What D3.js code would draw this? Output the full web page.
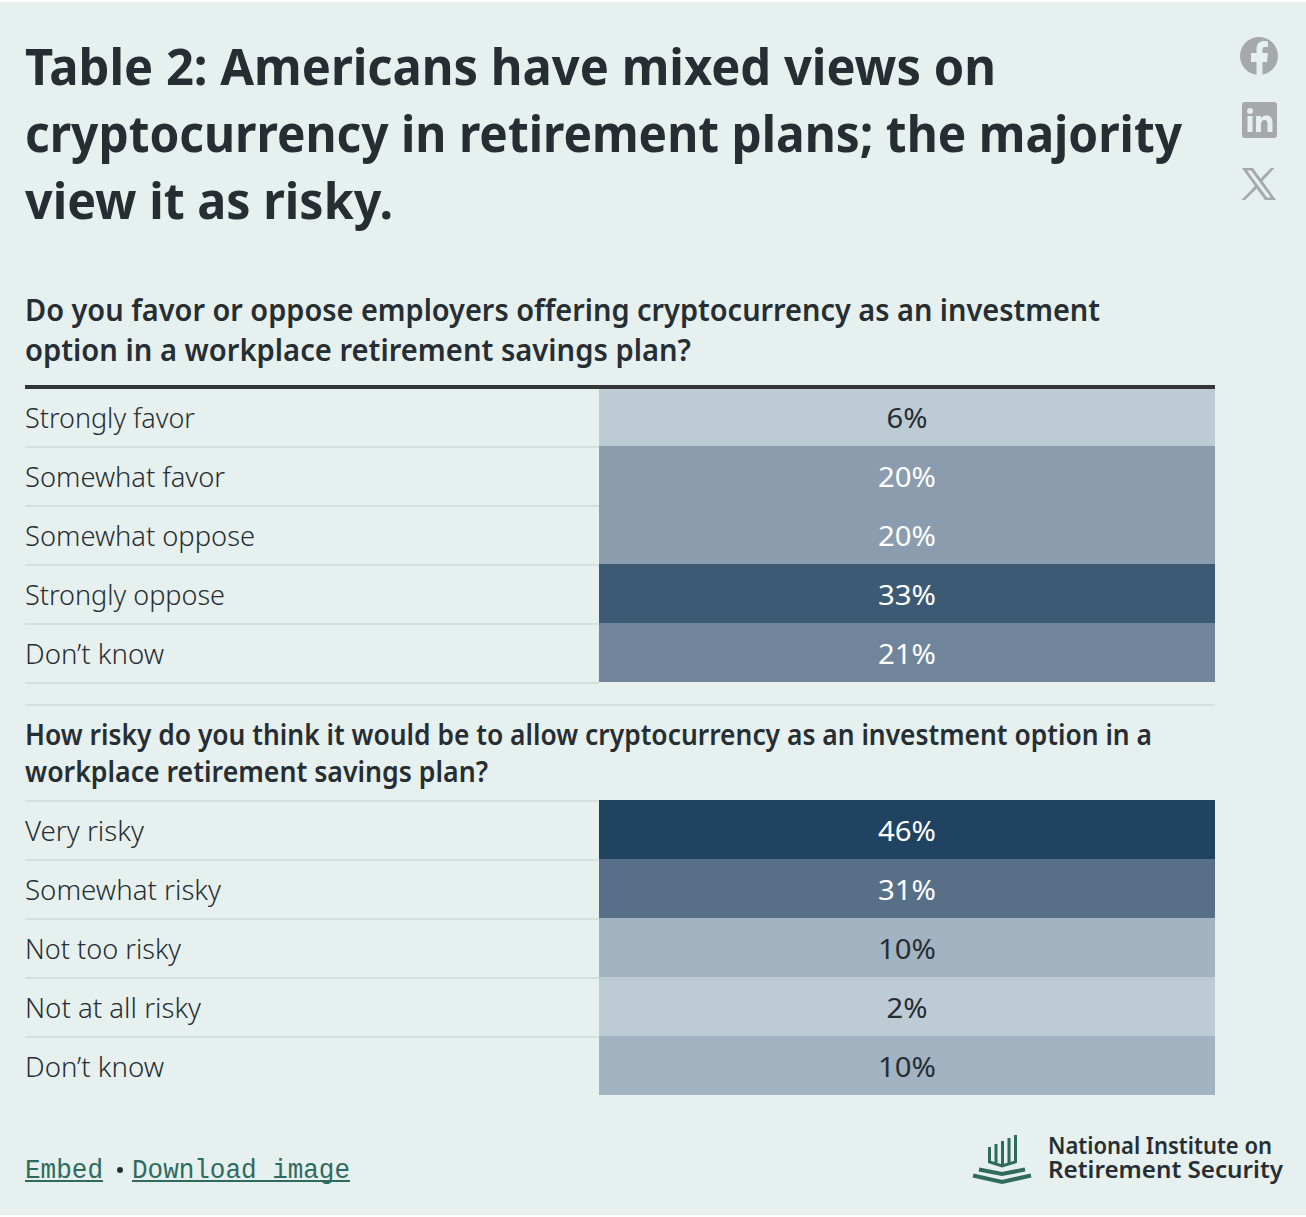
<!DOCTYPE html>
<html>
<head>
<meta charset="utf-8">
<script src="https://cdn.jsdelivr.net/npm/d3@7"></script>
<style>
  html, body { margin: 0; padding: 0; background: #fff; }
  svg { display: block; }
  text { font-family: "Noto Sans", sans-serif; }
</style>
</head>
<body>
<div id="chart"></div>
<script>
"use strict";

var titleLines = [
  "Table 2: Americans have mixed views on",
  "cryptocurrency in retirement plans; the majority",
  "view it as risky."
];
var titleWidths = [971, 1157, 368];

var favorQuestion = [
  "Do you favor or oppose employers offering cryptocurrency as an investment",
  "option in a workplace retirement savings plan?"
];
var favorQuestionWidths = [1075, 666];
var favorLabels = ["Strongly favor", "Somewhat favor", "Somewhat oppose", "Strongly oppose", "Don’t know"];
var favorValues = [6, 20, 20, 33, 21];

var riskQuestion = [
  "How risky do you think it would be to allow cryptocurrency as an investment option in a",
  "workplace retirement savings plan?"
];
var riskQuestionWidths = [1127, 463];
var riskLabels = ["Very risky", "Somewhat risky", "Not too risky", "Not at all risky", "Don’t know"];
var riskValues = [46, 31, 10, 2, 10];

var colorDomain = [2, 6, 10, 20, 21, 31, 33, 46];
var colorRange = ["#bdcbd5", "#bdcbd5", "#a2b3c2", "#8a9cad", "#70859b", "#577088", "#3d5a74", "#204361"];

var width = 1306, height = 1217;
var ink = "#272e33", green = "#2e6b5e", rule = "#d5e0de", bg = "#e6f0ee", iconGrey = "#a5a9a9";

var svg = d3.select("#chart").append("svg")
  .attr("width", width)
  .attr("height", height)
  .attr("viewBox", "0 0 " + width + " " + height);

svg.append("rect").attr("y", 2).attr("width", width).attr("height", height - 4).attr("fill", bg);

var color = d3.scaleOrdinal().domain(colorDomain).range(colorRange);
var x = d3.scaleLinear().domain([0, 1]).range([599, 1215]);

function fitted(sel, str, px, py, size, weight, fill, w) {
  var t = sel.append("text")
    .attr("x", px).attr("y", py)
    .attr("font-size", size).attr("font-weight", weight)
    .attr("fill", fill)
    .text(str);
  if (w) t.attr("textLength", w).attr("lengthAdjust", "spacingAndGlyphs");
  return t;
}

// Title
titleLines.forEach(function(d, i) {
  fitted(svg, d, 25, 85 + i * 67, 50, 700, ink, titleWidths[i]);
});

// Both question tables are drawn the same way
function drawTable(labels, values, top, labelWidths, lastRule) {
  var y = d3.scaleBand().domain(labels.map(function(d, i) { return i; })).range([top, top + labels.length * 59]);
  var g = svg.append("g");
  var seps = lastRule ? labels : labels.slice(0, -1);

  g.selectAll(".sep").data(seps).enter().append("line")
    .attr("x1", 25).attr("x2", x(0))
    .attr("y1", function(d, i) { return y(i) + 60; })
    .attr("y2", function(d, i) { return y(i) + 60; })
    .attr("stroke", rule).attr("stroke-width", 2);

  g.selectAll(".cell").data(values).enter().append("rect")
    .attr("x", x(0)).attr("width", x(1) - x(0))
    .attr("y", function(d, i) { return y(i); })
    .attr("height", y.bandwidth())
    .attr("fill", function(d) { return color(d); });

  g.selectAll(".label").data(labels).enter().append("text")
    .attr("x", 25)
    .attr("y", function(d, i) { return y(i) + 41; })
    .attr("font-size", 28).attr("font-weight", 300)
    .attr("fill", ink)
    .attr("textLength", function(d, i) { return labelWidths[i]; })
    .attr("lengthAdjust", "spacingAndGlyphs")
    .text(function(d) { return d; });

  g.selectAll(".value").data(values).enter().append("text")
    .attr("x", (x(0) + x(1)) / 2)
    .attr("y", function(d, i) { return y(i) + 41; })
    .attr("text-anchor", "middle")
    .attr("font-size", 28).attr("font-weight", 400)
    .attr("fill", function(d) { return d >= 20 ? "#ffffff" : ink; })
    .attr("textLength", function(d) { return d < 10 ? 41 : 58; })
    .attr("lengthAdjust", "spacingAndGlyphs")
    .text(function(d) { return d + "%"; });
}

// First table
favorQuestion.forEach(function(d, i) {
  fitted(svg, d, 25, 321 + i * 40, 30, 600, ink, favorQuestionWidths[i]);
});
drawTable(favorLabels, favorValues, 387, [170, 200, 230, 200, 139], true);
svg.append("rect").attr("x", 25).attr("y", 385).attr("width", 1190).attr("height", 4).attr("fill", "#333638");

// Second table
svg.append("line").attr("x1", 25).attr("x2", 1215).attr("y1", 705).attr("y2", 705)
  .attr("stroke", rule).attr("stroke-width", 2);
riskQuestion.forEach(function(d, i) {
  fitted(svg, d, 25, 745 + i * 37, 28, 600, ink, riskQuestionWidths[i]);
});
svg.append("line").attr("x1", 25).attr("x2", 599).attr("y1", 801).attr("y2", 801)
  .attr("stroke", rule).attr("stroke-width", 2);
drawTable(riskLabels, riskValues, 800, [119, 196, 156, 176, 139], false);

// Footer links
function link(str, px, w) {
  fitted(svg, str, px, 1178, 27, 400, green, w).style("font-family", "'Liberation Mono', monospace");
  svg.append("rect").attr("x", px).attr("y", 1180).attr("width", w).attr("height", 2).attr("fill", green);
}
link("Embed", 25, 78);
svg.append("circle").attr("cx", 120).attr("cy", 1170).attr("r", 3).attr("fill", ink);
link("Download image", 132, 218);

// Logo
var logo = svg.append("g").attr("fill", "none").attr("stroke", green);
logo.append("path").attr("stroke-width", 3)
  .attr("d", "M989.5 1147V1162L1002 1166L1015.500 1162V1135M996 1144V1164M1002.500 1141V1165M1009 1138V1164");
logo.append("path").attr("stroke-width", 4).attr("d", "M979 1169.500L1002 1174L1025 1169.500");
logo.append("path").attr("stroke-width", 4).attr("d", "M973 1175.500L1002 1182L1031 1175.500");

fitted(svg, "National Institute on", 1048, 1154, 23, 600, ink, 224);
fitted(svg, "Retirement Security", 1048, 1178, 23, 600, ink, 235);

// Share icons
var fb = svg.append("g").attr("transform", "translate(1259,56)");
fb.append("circle").attr("r", 19).attr("fill", iconGrey);
fb.append("path").attr("fill", bg)
  .attr("d", "M-2.500 19V6H-8V-3H-2.500V-7C-2.500-12 .5-15 5-15C7-15 9-14.500 9-14.500V-9H6C4-9 3.500-8 3.500-6V-3H9L8 6H3.500V19Z");

var li = svg.append("g").attr("transform", "translate(1242,102)");
li.append("rect").attr("width", 35).attr("height", 36).attr("rx", 3).attr("fill", iconGrey);
li.append("circle").attr("cx", 8).attr("cy", 9).attr("r", 3).attr("fill", bg);
li.append("rect").attr("x", 5.5).attr("y", 14).attr("width", 5).attr("height", 16).attr("fill", bg);
li.append("path").attr("fill", bg)
  .attr("d", "M14 14h5v2.500c1-2 3-3 5.500-3 5 0 6 3.500 6 8V30h-5v-7.500c0-2.500-.5-4.500-3-4.500s-3.500 2-3.500 4.500V30h-5z");

var xIcon = svg.append("g").attr("transform", "translate(1242,168)");
xIcon.append("path").attr("fill", iconGrey).attr("fill-rule", "evenodd")
  .attr("d", "M0 0h11l23 32H23zM5 2.500l20 27h4L9 2.500z");
xIcon.append("path").attr("fill", iconGrey).attr("d", "M29 0h3.500L19 14.500l-1.800-2.500zM13.500 17.500l1.800 2.500L3 32H-.5z");
</script>
</body>
</html>
